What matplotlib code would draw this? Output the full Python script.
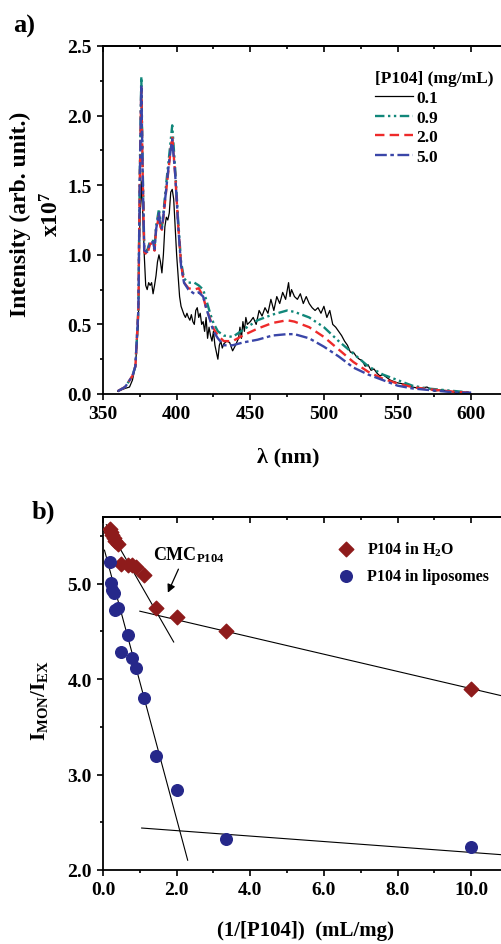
import numpy as np
import matplotlib.pyplot as plt
from matplotlib.ticker import MultipleLocator

plt.rcParams['font.family'] = ['Liberation Serif', 'DejaVu Serif']
plt.rcParams['font.weight'] = 'bold'
plt.rcParams['mathtext.fontset'] = 'custom'
plt.rcParams['mathtext.rm'] = 'Liberation Serif:bold'
plt.rcParams['mathtext.it'] = 'Liberation Serif:bold'
plt.rcParams['mathtext.bf'] = 'Liberation Serif:bold'

# ---- panel a: emission spectra (wavelength nm, intensity x1e7)
wl_01 = [360, 365, 368, 370, 372, 374, 375, 376, 377, 378, 379, 380, 381, 382, 383, 384,
         385, 386, 387, 388, 389, 390, 391, 392, 393, 394, 395, 396, 397, 398, 399, 400,
         401, 402, 403, 404, 405, 406, 407, 408, 409, 410, 411, 412, 413, 414, 415, 416,
         417, 418, 419, 420, 421, 422, 423, 424, 425, 426, 427, 428, 429, 430, 431, 432,
         434, 436, 438, 440, 442, 443, 444, 445, 446, 447, 448, 450, 452, 454, 456, 458,
         460, 462, 464, 466, 468, 470, 472, 474, 476, 477, 478, 480, 482, 484, 486, 488,
         490, 492, 494, 496, 498, 500, 502, 504, 506, 508, 510, 512, 514, 516, 518, 520,
         522, 524, 526, 528, 530, 532, 534, 536, 538, 540, 545, 550, 555, 560, 565, 570,
         575, 580, 585, 590, 595, 600]
int_01 = [0.02, 0.04, 0.05, 0.10, 0.20, 0.50, 1.20, 1.53, 1.30, 1.00, 0.78, 0.75, 0.80, 0.78, 0.80, 0.72,
          0.78, 0.85, 0.95, 1.00, 0.95, 0.87, 1.00, 1.20, 1.27, 1.25, 1.30, 1.45, 1.47, 1.40, 1.20, 1.00,
          0.85, 0.70, 0.63, 0.60, 0.57, 0.55, 0.58, 0.55, 0.53, 0.57, 0.52, 0.50, 0.60, 0.62, 0.55, 0.58,
          0.50, 0.52, 0.45, 0.55, 0.40, 0.48, 0.42, 0.38, 0.45, 0.35, 0.30, 0.25, 0.35, 0.38, 0.33, 0.36,
          0.38, 0.37, 0.31, 0.35, 0.40, 0.48, 0.40, 0.52, 0.45, 0.55, 0.50, 0.52, 0.55, 0.50, 0.60, 0.56,
          0.62, 0.58, 0.68, 0.60, 0.70, 0.65, 0.73, 0.68, 0.80, 0.70, 0.75, 0.70, 0.68, 0.72, 0.65, 0.70,
          0.65, 0.62, 0.60, 0.62, 0.58, 0.63, 0.55, 0.60, 0.50, 0.48, 0.45, 0.42, 0.38, 0.35, 0.30, 0.30,
          0.27, 0.25, 0.24, 0.20, 0.21, 0.17, 0.18, 0.15, 0.13, 0.14, 0.10, 0.08, 0.07, 0.05, 0.04, 0.05,
          0.02, 0.03, 0.02, 0.01, 0.01, 0.00]

wl_s = [360, 365, 370, 372, 374, 375, 376, 377, 378, 380, 382, 384, 385, 386, 388, 389, 390,
        391, 393, 395, 397, 399, 401, 403, 405, 408, 412, 415, 418, 420, 423, 425, 428, 432,
        438, 445, 455, 465, 475, 480, 490, 500, 510, 520, 530, 540, 550, 560, 570, 580, 590, 600]
int_09 = [0.02, 0.05, 0.13, 0.20, 0.60, 1.60, 2.28, 1.60, 1.05, 1.03, 1.10, 1.10, 1.05, 1.20, 1.33, 1.22, 1.20,
          1.30, 1.52, 1.72, 1.93, 1.62, 1.25, 0.95, 0.83, 0.80, 0.80, 0.78, 0.75, 0.68, 0.57, 0.51, 0.45, 0.42,
          0.41, 0.46, 0.53, 0.57, 0.60, 0.59, 0.55, 0.48, 0.38, 0.29, 0.20, 0.14, 0.10, 0.06, 0.04, 0.03, 0.02, 0.01]
int_20 = [0.02, 0.05, 0.13, 0.20, 0.60, 1.55, 2.20, 1.55, 1.02, 1.00, 1.08, 1.08, 1.03, 1.17, 1.28, 1.20, 1.18,
          1.27, 1.47, 1.66, 1.85, 1.58, 1.22, 0.93, 0.80, 0.76, 0.75, 0.76, 0.70, 0.62, 0.53, 0.47, 0.42, 0.38,
          0.38, 0.42, 0.47, 0.51, 0.53, 0.52, 0.48, 0.41, 0.32, 0.23, 0.16, 0.11, 0.075, 0.05, 0.035, 0.025, 0.015, 0.01]
int_50 = [0.02, 0.05, 0.13, 0.20, 0.60, 1.55, 2.22, 1.55, 1.03, 1.02, 1.09, 1.09, 1.04, 1.18, 1.30, 1.20, 1.19,
          1.28, 1.48, 1.68, 1.83, 1.58, 1.22, 0.92, 0.80, 0.75, 0.72, 0.73, 0.70, 0.62, 0.52, 0.45, 0.40, 0.35,
          0.35, 0.37, 0.39, 0.42, 0.43, 0.43, 0.40, 0.34, 0.27, 0.19, 0.14, 0.10, 0.06, 0.04, 0.03, 0.02, 0.01, 0.01]

conc_labels = ['0.1', '0.9', '2.0', '5.0']

# ---- panel b: I_MON/I_EX vs 1/[P104]
x_h2o = [0.2, 0.22, 0.25, 0.29, 0.33, 0.4, 0.5, 0.67, 0.8, 0.9, 1.11, 1.43, 2.0, 3.33, 10.0]
y_h2o = [5.57, 5.54, 5.51, 5.48, 5.45, 5.42, 5.21, 5.20, 5.20, 5.18, 5.09, 4.75, 4.65, 4.50, 3.90]
x_lip = [0.2, 0.22, 0.25, 0.29, 0.33, 0.4, 0.5, 0.67, 0.8, 0.9, 1.11, 1.43, 2.0, 3.33, 10.0]
y_lip = [5.23, 5.01, 4.94, 4.90, 4.73, 4.75, 4.29, 4.46, 4.22, 4.12, 3.80, 3.20, 2.84, 2.33, 2.24]

# linear fits: (slope, intercept, x_start, x_end)
fit_h2o_steep = (-0.672, 5.68, 0.09, 1.92)
fit_h2o_flat = (-0.0902, 4.803, 1.0, 11.0)
fit_lip_steep = (-1.438, 5.41, 0.04, 2.3)
fit_lip_flat = (-0.0286, 2.47, 1.05, 11.0)

W, H = 502, 945
fig = plt.figure(figsize=(W / 100, H / 100), dpi=100)


def style_axes(ax, xmaj, xmin, ymaj, ymin):
    for s in ax.spines.values():
        s.set_linewidth(1.3)
    ax.xaxis.set_major_locator(MultipleLocator(xmaj))
    ax.xaxis.set_minor_locator(MultipleLocator(xmin))
    ax.yaxis.set_major_locator(MultipleLocator(ymaj))
    ax.yaxis.set_minor_locator(MultipleLocator(ymin))
    ax.tick_params(which='both', direction='out', width=1.2, labelsize=14, pad=3.5)
    ax.tick_params(which='major', length=4.5)
    ax.tick_params(which='minor', length=2.5)
    # mirrored ticks on top / right point inwards
    top = ax.secondary_xaxis('top')
    top.xaxis.set_major_locator(MultipleLocator(xmaj))
    top.xaxis.set_minor_locator(MultipleLocator(xmin))
    right = ax.secondary_yaxis('right')
    right.yaxis.set_major_locator(MultipleLocator(ymaj))
    right.yaxis.set_minor_locator(MultipleLocator(ymin))
    for sec in (top, right):
        sec.tick_params(which='both', direction='in', width=1.2, labeltop=False,
                        labelright=False)
        sec.tick_params(which='major', length=4.5)
        sec.tick_params(which='minor', length=2.5)
        for s in sec.spines.values():
            s.set_linewidth(1.3)


# ---------- a)
axa = fig.add_axes([103 / W, 1 - 395 / H, (508 - 103) / W, (395 - 47) / H])
axa.plot(wl_01, int_01, color='black', lw=0.9, label=conc_labels[0])
axa.plot(wl_s, int_09, color='#11877a', lw=1.7, ls=(0, (4, 1.5, 1, 1.5, 1, 1.5)), label=conc_labels[1])
axa.plot(wl_s, int_20, color='#ee2a2a', lw=1.7, ls=(0, (4, 2.2)), label=conc_labels[2])
axa.plot(wl_s, int_50, color='#3a46a8', lw=1.7, ls=(0, (5, 1.5, 1.5, 1.5)), label=conc_labels[3])
axa.set_xlim(350, 625)
axa.set_ylim(0, 2.5)
axa.yaxis.set_major_formatter(plt.FormatStrFormatter('%.1f'))
style_axes(axa, 50, 25, 0.5, 0.25)
axa.set_xlabel('λ (nm)', fontsize=16, fontweight='bold')
axa.xaxis.set_label_coords(0.457, -0.15)
axa.set_ylabel('Intensity (arb. unit.)\nx10$^7$', fontsize=17, fontweight='bold',
               linespacing=1.5)
axa.yaxis.set_label_coords(-0.097, 0.52)
leg = axa.legend(title='[P104] (mg/mL)', loc='upper left', bbox_to_anchor=(0.655, 0.95),
                 frameon=False, fontsize=12.5, title_fontsize=12.5, handlelength=2.2,
                 handletextpad=0.15, labelspacing=0.2, borderaxespad=0)
leg.get_title().set_fontweight('bold')
leg._legend_box.align = 'left'
fig.text(13 / W, 1 - 26 / H, 'a)', fontsize=19, fontweight='bold', va='center')

# ---------- b)
axb = fig.add_axes([103 / W, 1 - 871 / H, (508 - 103) / W, (871 - 518) / H])
axb.scatter(x_h2o, y_h2o, marker='D', s=55, color='#8e1b1b', zorder=3, label='P104 in H$_2$O')
axb.scatter(x_lip, y_lip, marker='o', s=70, color='#26288a', zorder=3, label='P104 in liposomes')
for sl, ic, x0, x1 in (fit_h2o_steep, fit_h2o_flat, fit_lip_steep, fit_lip_flat):
    xs = np.array([x0, x1])
    axb.plot(xs, sl * xs + ic, color='black', lw=0.8, zorder=2)
axb.set_xlim(0, 11)
axb.set_ylim(2.0, 5.7)
axb.xaxis.set_major_formatter(plt.FormatStrFormatter('%.1f'))
axb.yaxis.set_major_formatter(plt.FormatStrFormatter('%.1f'))
style_axes(axb, 2, 1, 1, 0.5)
axb.set_xlabel('(1/[P104])  (mL/mg)', fontsize=15, fontweight='bold')
axb.xaxis.set_label_coords(0.5, -0.142)
axb.set_ylabel('I$_{MON}$/I$_{EX}$', fontsize=15, fontweight='bold')
axb.yaxis.set_label_coords(-0.13, 0.484)
axb.annotate('', xy=(1.73, 4.88), xytext=(2.08, 5.18),
             arrowprops=dict(arrowstyle='-|>', color='black', lw=0.9, mutation_scale=12))
axb.text(1.36, 5.31, 'CMC$_{\\mathregular{P104}}$', fontsize=13, fontweight='bold', va='center')
legb = axb.legend(loc='upper left', bbox_to_anchor=(0.545, 0.955), frameon=False, fontsize=11.5,
                  handletextpad=0.3, labelspacing=0.65, borderaxespad=0, scatterpoints=1)
fig.text(32 / W, 1 - 512 / H, 'b)', fontsize=19, fontweight='bold', va='center')

fig.savefig('out.png', dpi=100)
